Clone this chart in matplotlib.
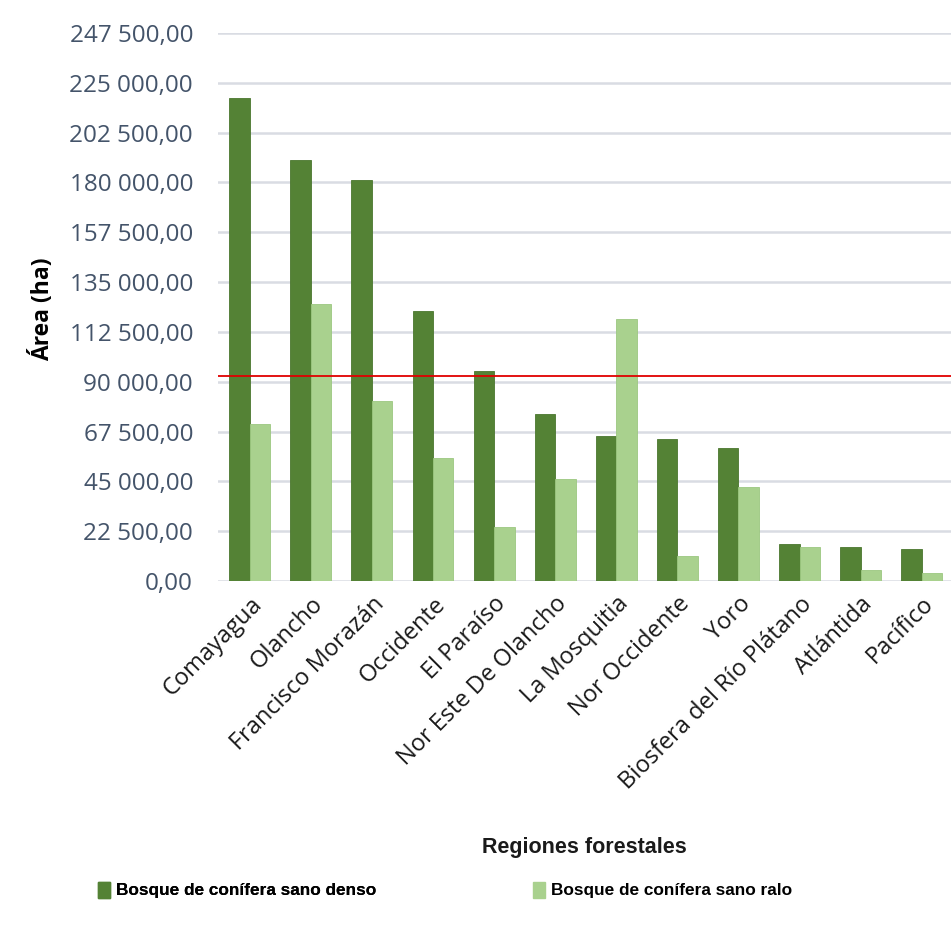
import matplotlib
matplotlib.use("Agg")
import matplotlib.pyplot as plt
from matplotlib.patches import Patch
import numpy as np

regions = ["Comayagua", "Olancho", "Francisco Morazán", "Occidente", "El Paraíso",
           "Nor Este De Olancho", "La Mosquitia", "Nor Occidente", "Yoro",
           "Biosfera del Río Plátano", "Atlántida", "Pacífico"]
denso = [218200, 190200, 181200, 122000, 94900, 75500, 65500, 64000, 60000, 16700, 15500, 14500]
ralo = [70900, 125100, 81300, 55600, 24400, 46100, 118400, 11300, 42500, 15400, 5000, 3500]
reference_line = 92500
yticks = [0, 22500, 45000, 67500, 90000, 112500, 135000, 157500, 180000, 202500, 225000, 247500]
series_names = ["Bosque de conífera sano denso", "Bosque de conífera sano ralo"]

c_denso = "#548235"
c_ralo = "#A9D18E"

def fmt(v):
    s = f"{v:,.2f}"
    s = s.replace(",", " ").replace(".", ",")
    return s

fig = plt.figure(figsize=(9.51, 9.39), dpi=100)
ax = fig.add_axes([218/951, 1-581/939, 733/951, (581-33)/939])

x = np.arange(len(regions))
w = 0.335
ax.bar(x - w/2, denso, width=w, color=c_denso, edgecolor="#4a772e", linewidth=0.6, zorder=3)
ax.bar(x + w/2, ralo, width=w, color=c_ralo, edgecolor="#9cc780", linewidth=0.6, zorder=3)
ax.axhline(reference_line, color="#E00000", linewidth=1.3, zorder=4)

ax.set_ylim(0, 247500)
ax.set_xlim(-0.52, 11.48)
ax.set_yticks(yticks)
ax.set_yticklabels([fmt(v) for v in yticks], fontsize=17.5, color="#44546A", family="Open Sans")
ax.yaxis.grid(True, color="#D9DCE3", linewidth=1.8, zorder=0)
ax.set_axisbelow(True)
for s in ax.spines.values():
    s.set_visible(False)
ax.tick_params(axis="both", length=0)
ax.tick_params(axis="y", pad=18)

ax.set_xticks(x)
ax.set_xticklabels(regions, rotation=45, ha="right", rotation_mode="anchor",
                   fontsize=17, color="#1a1a1a", family="Open Sans")
ax.tick_params(axis="x", pad=8)

ax.set_ylabel("Área (ha)", fontsize=16.5, fontweight="bold", family="Open Sans")
ax.yaxis.set_label_coords(-0.222, 0.495)

fig.text(584/951, 1-847/939, "Regiones forestales", ha="center", va="center",
         fontsize=15.5, fontweight="bold", family="Liberation Sans", color="#1a1a1a")

leg_props = dict(family="Liberation Sans", weight="bold", size=12.4)
l1 = fig.legend(handles=[Patch(color=c_denso)], labels=[series_names[0]], loc="center left",
                bbox_to_anchor=(82/951, 1-890/939), frameon=False, prop=leg_props,
                handlelength=0.7, handleheight=1.05, handletextpad=0.4)
l2 = fig.legend(handles=[Patch(color=c_ralo)], labels=[series_names[1]], loc="center left",
                bbox_to_anchor=(517/951, 1-890/939), frameon=False, prop=leg_props,
                handlelength=0.7, handleheight=1.05, handletextpad=0.4)
fig.add_artist(l1)

fig.savefig("out.png", dpi=100, facecolor="white")
